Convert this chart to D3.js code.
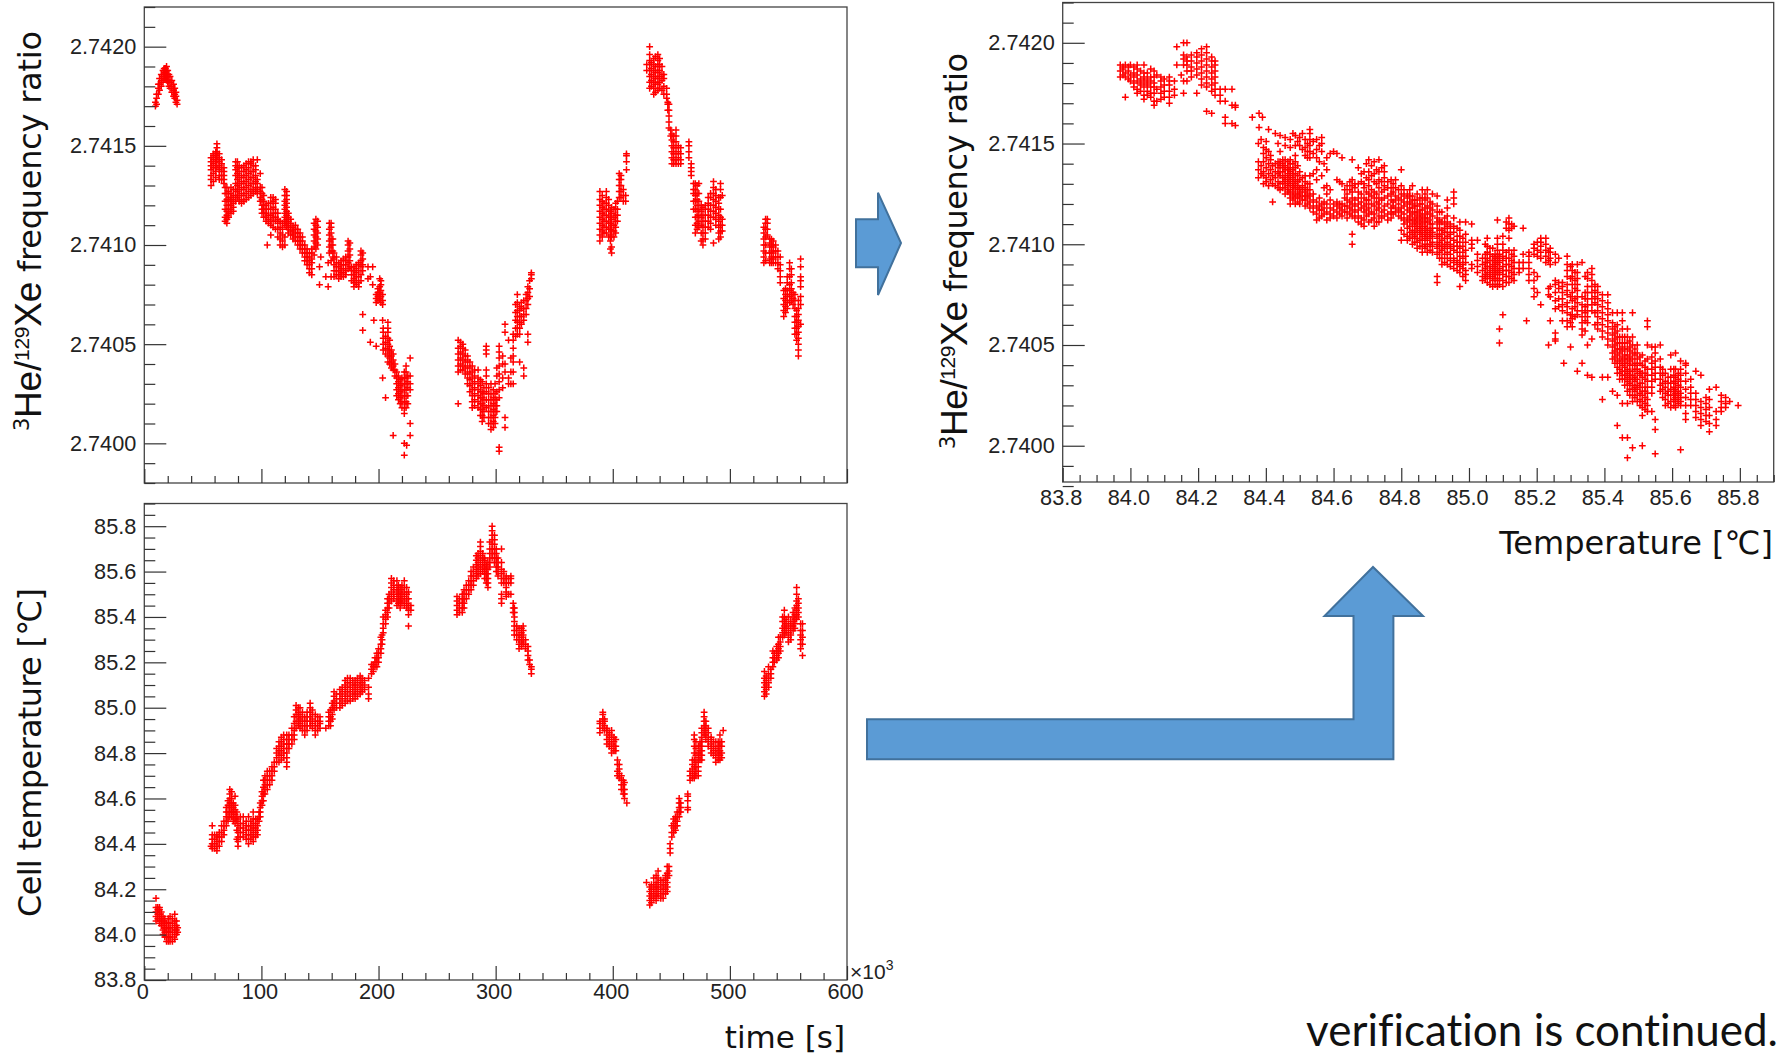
<!DOCTYPE html>
<html>
<head>
<meta charset="utf-8">
<script src="https://cdn.jsdelivr.net/npm/d3@7"></script>
<style>
  html, body { margin: 0; background: #fff; }
  svg { display: block; }
  .tick text { font-family: "Liberation Sans", sans-serif; font-size: 21.7px; fill: #222; }
  .title { font-family: "DejaVu Sans", sans-serif; fill: #111; }
  .note { font-variant-ligatures: none; }
</style>
</head>
<body>
<svg width="1787" height="1057"></svg>
<script>
// Values. Every row is one column of points: the first
// number is the abscissa, the rest are the ordinates at that abscissa.
// Ratios are written in units of 1e-5 above 2.74, temperatures in 0.01 C above 84.

// ratio against time (time in units of 10^3 s)
const ratioRun1 = [[9.5,170,172],[10.5,171,174,176],[12,176,179,181],[13,178,181,184],[14.5,180,183,186],[16,182,185,188],[17,184,186,188,189],[18,184,187,189],[19,183,186,188,190],[20,182,185,188],[21,180,183,186],[22,179,182,185],[23.5,177,180,183],[25,175,178,181],[26,174,176,179],[27,172,175,177],[28,171,173]];
const ratioRun2 = [[57,130,133,135,138,140,142,144],[59,132,136,139,141,143,145,146],[61,134,137,139,142,144,146,147],[62,140,143,145,147,151,149],[64,133,135,138,140,142,144,146],[66,133,135,137,139,141,143],[68,131,133,135,137,139],[69,112,114,118,122,126,129],[70.5,111,113,115,117,120,123,126,129],[72,114,116,118,120,122,124,127],[74,116,118,120,122,124,126,129],[76,117,119,121,123,125,128],[78,122,125,128,131,135,138,140,142],[79.5,124,127,130,133,136,139,142],[81,122,125,128,131,134,137,140],[83,121,123,126,129,132,135,139],[85,122,125,128,131,134,137,140],[87,123,126,129,132,135,138,141],[89,124,127,130,133,136,139,142],[91,125,128,131,134,137,141,142],[93,126,128,131,134,137,140,143],[95,127,129,132,135,138,140],[96.5,126,128,131,133,143],[99,122,124,127,129,136],[100.5,116,118,120,123,126,129],[102,114,116,118,120,122,125],[104,112,114,116,118,120],[105,100],[106,111,113,115,118,121],[108,105,110,112,115,118,121,124],[110,109,112,114,116,119,122,124],[112,108,112,114,116,118,121,123],[114,104,108,111,113,116],[116,100,103,106,109,112],[118,99,102,105,108,111],[120,100,104,110,112,114,116,118,120,122,125,128],[121.5,109,111,113,115,117,119,121,123,125,127],[123,106,108,110,112,114,116],[125,105,107,109,111,113],[127,103,105,107,109],[129,102,104,106,108,110],[131,100,102,104,106,108],[133,98,100,102,104,106],[135,96,98,100,102,104],[137,92,94,96,98,100],[139,90,92,94,96,98],[141,86,88,90,92,94,96],[143,85,88,91,93,96,98],[145,95,99,102,105,108,111],[146.5,98,101,104,107,110,113],[148,100,103,106,109,112],[149.6,80,89],[150.7,94],[155,84],[157,79,91],[158,96,99,102,105,108,111],[159.5,84,92,97,100,103,106,109,111],[161,94,97,100,103],[162,84,87,90,93,96],[164,85,87,89,91,94],[166,83,85,87,89,91],[168,84,86,88,90,92],[170,84,86,88,90,93],[172,85,87,90,92,94],[174,88,91,94,97,100,102],[175.5,89,92,95,98,101],[177,82,85,87,89],[179,79,81,83,85,87,89],[181,80,82,84,86,88,90],[183,79,81,84,87,90,91],[185,82,85,89,92,95,97],[186.5,57,65,87,90,93,96],[191,83,89],[193,51,84],[195,80,89],[196,62],[198,49,71,73,75],[199.5,72,74,76,78],[201,73,76,79,83],[202,71,74,77,80,82],[203.5,33,62,70,72,75],[204,47,50,53,56,58],[206,23,45,48,51,54],[208,41,44,47,50,53,56,58,61],[209.5,40,43,46,49,52],[211,38,41,44,47],[212.5,4,37,39,42,45],[214,34,37,40],[215.5,24,27,30,33,36],[217,22,25,28,31,34],[218.5,20,23,26,29,32],[220,18,21,24,27,30,33],[222,-6,0,15,18,21,24,27,30,33,36],[223.5,18,21,24,27,30,33,36,39],[224,-1],[225,20,24,28,31,34],[227,4,10,27,30,34,43]];
const ratioRun3 = [[268,20,36,39,42,45,48,52],[270,37,40,43,46,49,51],[272,37,39,42,45,48,50],[274,35,38,41,44,47],[276,30,33,36,39,42,44],[278,26,29,32,35,38,41],[280,18,21,24,27,30,33,36,39],[282,19,22,25,28,31,34,37],[285,18,21,24,27,30,33,37],[287,14,17,20,23,26,29,32],[288.5,11,14,17,20,23,26,31],[290,13,16,19,22,25,28],[292,18,22,26,30,34,37,45,47,49],[294,10,13,16,19,22,25,28],[296,7,10,13,16,19,22,25,30],[298,8,11,14,17,20,23,27],[299.5,10,13,16,19,22,25,30],[301,16,19,22,26,34,38],[303,-4,-2,23,27,31,35,39,43,46,49],[306,28,33,40,44],[308,8,13,36,40,56,60],[311,30,33,52],[313,30,36,43],[315,30,36,41,44,48,52,55],[317,54,58,62,66,70],[318.5,55,58,61,64,67,71,75],[320.5,41,55,58,61,64,67,69],[322,60,64,68,71],[324,34,38,62,65,68,72],[326,65,68,72,75],[327.5,51,55,70,73,76,79],[329,74,78,82],[330.5,83,85,86]];
const ratioRun4 = [[389,102,105,108,111,114,117,120,123,127],[391,104,107,110,113,116,119,122,125],[392.5,106,109,112,115,118,121],[394.5,106,109,112,115,118,121,124,127],[396.5,104,108,111,114,117,120,123],[398,98,102,105,108,111,114,117],[399,96,99,104,107,110,113,116,119],[401,104,107,110,114,118],[402.5,106,109,112,115,118,121],[404,112,115,118,122],[405.5,124,127,130,133,136],[407,124,127,130,133,135],[409,122,125,128],[411,122,125],[411.7,138,142,145,146]];
const ratioRun5 = [[429,188,191],[431.5,179,182,185,188,191,193,196,200],[433,180,183,186,189,192],[435,176,179,182,185,188,191,194],[436.5,177,181,184,187,190,195],[438.5,178,181,184,187,190,193,196],[440,179,182,185,188,191,194],[442,178,183,186,190],[443.6,176,180,184,186],[446,174,176,179],[447,168,171,172],[448,159,162,165,168,171],[449.5,155,158],[450.5,141,144,147,150,153,156],[452,141,143,146,149,152,155],[454,141,143,146,149,152,155,158],[456,141,144,147,150],[458,141,143,146,149],[465,144,147,150,152],[467,135,137,139,141],[469,118,122,126,128,131],[470.5,106,110,114,118,122,125,128,131],[472,108,111,114,117,120,123,126,130],[473.5,109,112,115,118,122,126,131],[475.5,102,106,110,114,117,120],[477,100,103,106,109,112,115,119],[479,103,106,109,112,115,118,120],[481.5,109,112,115,118,121,124],[483.5,108,111,114,117,120,124,126],[486,101,114,117,120,123,126,129,132],[488,110,113,116,119,122,125,128],[490.5,103,106,109,112,115,118,121,124],[492,104,107,110,114,118,124,128,131],[493.5,107,110,113,125]];
const ratioRun6 = [[529,91,94,97,100,103,106,109],[530.5,92,96,100,104,108,111,113],[532,105,108,111,113],[534,91,93,96,99,101,103],[535.5,91,94,97,100,103],[537,91,93,96,99,102],[539,91,94,97,100],[541,88,91,94,97],[543,81,84,87,90,94],[546,64,67,70,73,77],[547.5,66,69,72,75,78],[549,68,71,74,77,81,84],[551,71,74,77,80,84,88,91],[552.5,72,75,78,81,85,88],[554,70,73,76],[555.5,55,58,61,64,68,72,75],[557,52,55,58,61,64,67],[558.5,44,47,50,53,56,59,62,65,68,72],[560.4,60,70,74,79,82,84,89,93]];

// cell temperature against time (time in units of 10^3 s)
const tempRun1 = [[10,6,8,10,12,16],[11.5,7,9,11,12],[13,5,7,9,11,12],[14.5,4,6,8,10],[16,0,2,4,6,8],[17.5,-1,1,3,5,7],[19,-3,-1,1,3,5],[20.5,-3,-1,1,3,5,7],[22,-3,-1,1,3,5,8],[24,-3,-1,1,3,5,7],[26,-2,0,2,4,6,9],[27.5,0,2,4,6],[28.5,1,3]];
const tempRun2 = [[57,39],[58,38,40,42,44,48],[60,38,40,42,44],[62,37,39,41,43,44],[64,39,41,43,45],[66,41,43,45,48],[68,44,46,48,50],[70,48,50,52,54,56],[71.5,50,52,54,57,59],[73,52,54,56,58,60,62,64],[74.5,52,54,56,58,60,63],[76,50,52,54,56,58],[77.5,49,51,53,55,57,61],[79,42,46,50,52,54],[80,39,41,43,45,48,51],[82,43,45,47,49,52],[84.5,43,45,47,49,52],[87,42,44,46,48,50],[89,40,42,44,46,48,52],[91,42,44,46,48,50],[93,41,43,45,47,49,51,54],[95,43,45,47,49,51],[96.6,44,46,48,51],[98,50,52,54],[99,52,54,56,58],[100.5,57,59,61,63],[101.7,59,62,65,68],[103,62,64,66,68,70],[105,64,66,68,70,72],[107,66,68,70,72],[109,68,70,72,74],[111,72,74,76],[113,76,78,80,82],[115,76,79,81,83,85],[117,77,79,81,83,85,87],[119,78,80,82,84,86,88],[121.6,74,76,78,80,82,84,86,88],[123.5,82,84,86,88],[126,84,86,88,91],[128,86,88,90,93,96],[129.6,91,94,97,99,101],[131.5,92,94,96,98,100],[133,91,93,95,97,100],[135,90,92,94,96,98],[137,88,90,92,94,96],[139,90,92,94,96,98],[141.6,92,94,96,98,100,102],[143.5,91,93,95,97,99],[146,88,90,92,94,97],[148,90,92,94,96],[150,91,93,94,96],[155,91],[157.5,92,94,96,98],[159,92,94,96,99],[160.5,95,97,100,102],[162,99,101,103,105,107],[164,100,102,104,106],[167,100,102,104,106,108],[169,101,103,105,107,109],[171.5,102,104,106,108,110,112],[173.5,103,105,107,109,111,113],[175.8,103,105,107,109,111,113],[178,104,106,108,110,112],[180,104,106,108,110,112],[182,105,107,109,111,113],[184.3,106,108,110,112,114],[186,107,109,111,113],[188,108,110,112],[191.5,104,106,109,113],[194,115,117,119],[195.5,116,118,119],[197,118,120,122],[198.6,118,120,122,124],[200,120,122,124,126],[202,124,126,128,131],[203,128,130,132],[204,133,135,137,140],[206,137,139,141,143],[207.7,140,142,144,146,148],[209,144,146,148,150],[211,147,149,151,153,155,157],[213,148,150,152,154,156],[215.7,145,147,149,151,153,156],[217,146,148,150,152,154],[218.5,144,146,148,150,153],[220,146,148,150,152,154],[222,145,147,149,151,153,156],[224,144,146,148,150,153],[225.6,136,141,143,145,148,151],[227.6,143,145]];
const tempRun3 = [[267,141,143,145,147,149],[269,142,144,146,148],[271.5,142,144,146,148,150],[273,144,146,148,150,152],[275,148,150,152,154],[277,150,152,154,156],[279,152,154,156,158,160],[281,154,156,158,160,162],[283.5,157,159,161,163,165,167],[285,158,160,162,164,166,168],[287,159,161,163,165,167,169,171,173],[289,160,162,164,166,168],[290.6,157,159,161,163,165,166],[292,155,157,159,161,163],[293.4,153,155,157,159,161,164],[295,162,164,166,168,170,173],[297,166,168,170,172,174,176,178,180],[299,164,166,168,170,172,174,176],[300.6,160,162,164,166,168,170],[302,158,160,162,164,166],[305,146,148,150,155,157,159,161,164,170],[307,155,157,160],[309,149,151,153,155,157,158],[311,150,155,157],[313,150,155,157,158],[315,142,144,146],[316,132,134,136,138,140,142,144],[318,130,132,134,136],[320,126,128,130,132,135],[322,127,129,131,133,135],[323.5,128,130,132,134,136],[325.5,126,128,130],[327.6,121,123,125,127],[329,119,121],[330.5,115,117,118]];
const tempRun4 = [[389,89,91,93,94],[391.5,91,93,95,97,98],[393,90,92,94,95],[395,84,86,88,90,91],[397,83,85,87,89],[399,80,82,84,86,88,90],[401,81,83,85,87],[402.6,81,83,86],[404,70,72,75,77],[405.5,69,71,73,75],[407.4,64,66,68,70],[409,62,64,66,68],[410,60,62,64,67],[412,58]];
const tempRun5 = [[428.8,23],[431.6,13,15,17,19,21],[433,14,16,18,20,22],[435,16,18,20,22,25],[437,15,17,19,21,23,26],[438.7,17,19,21,23,25,28],[441,16,18,20,22,24],[443,16,18,20,22,24],[445,18,20,22,24,26],[446.5,19,21,23,25,27,30],[448,26,28,30],[449,36,38,40],[450.4,43,45,48],[452,45,47,49,51],[453.5,46,48,50,52],[455,48,50,52,54],[456.7,52,54,56,58,60],[458,54,56,58],[464,55,56,59,61,62],[466,68,70,72],[468,69,71,73,75,77],[469.6,69,71,74,77,80,83,86,88],[471,70,72,74,76,79,82,85],[473,70,72,74,76,78,80,83],[474.5,77,79,81,83,85],[476,77,79,81,83,85,87,89,91],[478,88,90,92,94,96,98],[479.5,86,88,90,92,94],[481.5,83,85,87,89,91],[484,80,82,84,86,87],[486,79,81,83,85],[488,76,78,80,82,85],[490,77,79,81,83,85],[491.5,77,79,81,83,85,88],[493,78,80,83,85],[494.3,90]];
const tempRun6 = [[529.5,105,107,109,111,113,116],[531,106,108,110,112,114],[533,109,111,113,115,118],[535,113,115,117],[536.7,118,120,122,125],[538,120,122,124],[540,121,123,125,127],[541.5,122,124,126,128,131],[543,125,127,129,131],[545,131,133,135,138,140],[546.5,132,134,136,138,140,143],[548,133,135,137,139],[550,129,131,133,135,137,140],[552,130,132,134,136,138],[554,134,136,138,140,142],[555.5,135,137,139,141,144],[557,139,141,143,145,147,150,153],[558.5,140,142,144,146,148],[560.4,126,128,130,132,134,137],[562,123,128,131,134,137]];

// ratio against temperature
const ratioByTemp1 = [[83.97,183,186,189],[83.978,184,187,188],[83.985,173,183,185,189],[83.994,182,186,188],[84.0,181,184,189],[84.01,178,180,183,185,188],[84.02,175,177,181,184,187,189],[84.03,176,179,180,182,186],[84.04,172,174,178,181,183,185,189],[84.05,174,176,179,180,182,185],[84.06,173,175,178,181,183,187],[84.07,169,171,175,178,180,183,186],[84.078,171,177,184],[84.09,172,175,178,181,183],[84.1,173,176,179,182],[84.115,170,173,176,179,181,183],[84.13,174,177,181],[84.137,189,198],[84.15,184],[84.157,175,181,189,192,194,200],[84.167,181,186,189,191,193,200],[84.18,183,186,188,191,194],[84.196,175,184,187,190,193,195],[84.21,179,182,185,188,191,194,197],[84.225,166,178,180,183,186,189,192,195,198],[84.24,165,176,179,182,185,188,191,193],[84.25,174,177,180,183,186,189,191],[84.265,171,174,177],[84.28,160,163,171,177],[84.3,160,169,177],[84.31,159,168,169],[84.36,163],[84.38,158,165],[84.39,163]];
const ratioByTemp2 = [[84.378,133,137,141,150],[84.386,135,139,152],[84.393,130,134,136,141,145,148],[84.401,131,133,138,143,147,151],[84.408,129,135,140,146,157],[84.414,132,137,142,144],[84.42,121,130,134,139],[84.428,129,133,136,140,155],[84.436,128,131,135,138,141,150],[84.442,127,130,134,136,139,141,146,154],[84.45,128,131,133,136,138,140,142],[84.457,125,128,130,132,134,137,139,142,149,153],[84.465,126,127,129,131,133,135,137,138,141],[84.472,120,123,125,127,130,132,134,136,138,140,142,148,152],[84.48,122,124,126,128,129,131,133,135,137,140,155],[84.487,120,123,125,128,130,132,135,138,141,144,149,154],[84.494,121,124,127,129,131,134,139,151],[84.5,120,123,125,126,128,132,136,149,153],[84.508,122,124,127,129,133,147,155],[84.516,119,122,124,126,128,131,134,144,148,152],[84.523,120,123,125,127,130,143,146,150],[84.53,118,121,124,127,130,134,143,146,149,152,155,157],[84.54,116,119,122,125,135,145,151],[84.55,112,115,118,121,132,137,143,147,152],[84.558,113,117,119,123,141,149],[84.565,114,117,120,134,146,150,153],[84.572,115,118,121,128,140],[84.58,112,116,120,125,129,137,143],[84.59,113,115,118,122,127,145],[84.6,114,117,120,146],[84.61,113,116,119,121,132,145],[84.618,115,118,120,131],[84.625,114,117,120,130,143],[84.633,116,119,123,127],[84.64,113,116,119,122,125,129],[84.648,115,118,121,127,131],[84.655,100,105,114,117,120,123,126,129,132,142],[84.663,113,116,119,122,128,130],[84.673,111,114,117,120,123,126,130,138]];
const ratioByTemp3 = [[84.682,110,113,118,121,125,131,135],[84.69,109,112,116,119,123,128,130,136],[84.697,114,117,120,122,126,133,140],[84.704,111,115,118,122,125,129,132,136,142],[84.712,112,116,120,124,127,134,139],[84.72,109,113,115,119,123,126,131,135,141],[84.727,111,117,121,125,130,137],[84.734,111,114,118,120,123,128,132,136,142],[84.742,113,116,122,126,131,138],[84.75,114,117,119,123,127,129,133,136,139],[84.76,112,115,120,124,128,131],[84.77,113,116,118,122,125,128,132],[84.776,115,119,121,126,130],[84.783,116,118,122,124,128,132],[84.792,114,117,120,123,127],[84.8,102,107,113,116,118,122,125,129,137],[84.808,105,110,112,115,119,121,124,127],[84.818,102,104,108,111,113,117,120,123,125],[84.825,103,106,109,112,114,116,118,121,124,127],[84.833,100,103,105,107,110,112,115,118,120,122,124,129],[84.84,101,104,106,109,111,113,116,119,122],[84.847,98,101,103,106,108,110,112,114,116,119,122,125],[84.855,99,102,105,107,109,111,113,115,117,120,123],[84.862,96,99,102,104,106,108,110,112,114,117,120,123,127],[84.87,98,100,103,105,107,109,111,113,115,118,122,125],[84.877,96,99,102,104,106,108,111,113,116,119,123,127],[84.885,97,100,103,105,107,110,112,115,118,121],[84.892,96,99,101,104,106,108,110,114,117,120,125],[84.906,81,84,95,98,100,103,105,108,111,113,116,119,124],[84.913,93,96,99,101,104,107,110,112,116],[84.92,90,93,97,99,102,105,107,111,116],[84.928,91,95,98,100,103,106,108,110,113],[84.936,90,93,96,99,101,104,106,109,111,114,118,122],[84.945,89,92,95,98,100,103,105,108,110],[84.955,88,91,93,97,99,102,106,109,113,120,123,126],[84.965,87,90,92,96,99,101,104,108],[84.973,79,86,89,91,94,98,101,104,107,111],[84.982,84,88,90,93,96,99,103],[84.99,82,85,87,91,94,97,101,105,111],[85.008,88,90,98,100,102,110],[85.025,86,89,92,95,102],[85.04,82,84,87,90,93],[85.048,83,85,88,91,95,100],[85.054,81,84,86,89,91,93,96,99,103],[85.062,80,83,85,87,89,92,95,98],[85.07,79,82,84,86,88,90,92,94,98],[85.077,80,83,85,87,89,91,93,95],[85.084,79,82,85,87,90,92,94,97,100,103,112],[85.09,51,58,80,83,86,88,91,93,95],[85.1,65,79,82,85,87,89,92,94,97,100,104],[85.11,81,84,87,90,93,96,108,111],[85.118,81,84,87,90,93,97,103,107,110,113],[85.126,83,86,89,92,95,108,110],[85.133,82,85,88,91,94,97,109],[85.148,86,88,91],[85.16,88,91,95,108],[85.17,62],[85.177,82,85,88,91,94,96],[85.192,74,78,82,86,95,98,100],[85.202,76,84,94,97,101],[85.212,70,93,96,99,101,103],[85.227,91,94,97,100,103],[85.235,50,75,78,92,96],[85.24,62,74,79,90,93,96,98],[85.255,52,53,56,68,72,76,80,82,91,95],[85.265,69,73,78,81,93],[85.276,62,67,70,73,76,79,81],[85.28,41],[85.29,59,62,66,69,71,75,77,80,84,87,90,94],[85.3,49,61,65,74,83,89],[85.305,59,63,65,68,72,76,80,84,87,90],[85.313,64,69,73,78,82,86],[85.32,37,65,67,71,74,77,80,83,86,90],[85.334,41,55,58,61,64,67,70,74,91],[85.343,57,62,66,69,73,76,84],[85.35,35,50,61,64,67,70,73,76,79,83,86],[85.363,34,53,67,70,73,76,79,82,85,88],[85.372,60,66,71,74,77,80],[85.38,58,61,64,67,70,73,76,79],[85.394,23,34,54,57,60,63,66,69,72,75],[85.41,34,50,53,56,59,62,65,68,71,75],[85.424,27,43,46,49,52,55,58,61,66],[85.431,41,44,47,50,53,56,59],[85.438,10,25,36,39,42,45,48,51,54,57,60,66]];
const ratioByTemp4 = [[85.445,33,36,38,41,43,46,48,51,54],[85.453,4,21,33,35,37,40,42,44,47,49,51,54,58,62,66],[85.46,30,33,35,37,39,41,43,45,48,51,54],[85.468,-6,4,21,27,30,32,34,36,38,41,43,45,48,51,54,58],[85.475,25,28,31,33,35,37,40,42,44,47,49,52],[85.483,-1,22,25,28,30,33,35,37,40,43,46,50,54,66],[85.49,24,27,29,32,34,38,41,45,48],[85.497,22,25,28,30,33,36,38,40,43,46,50],[85.505,20,23,26,29,31,35,37,41,44],[85.512,0,15,19,22,25,27,31,34,36,40,45],[85.52,18,21,24,27,29,33,36,39,42],[85.527,17,20,23,26,29,32,35,38,43,50,59,62],[85.54,17,26,29,32,35,38,41,44,49],[85.55,-4,8,13,33,36,39,42,46,49],[85.565,27,30,33,36,39,43,50],[85.572,24,28,31,35,38],[85.58,20,23,26,29,32,36],[85.588,21,25,27,31,34],[85.596,19,22,25,28,31,34,38,45],[85.605,20,23,25,27,29,32,35,38],[85.61,19,22,24,26,28,31,34,38,46],[85.618,21,23,25,27,30,33,36],[85.625,-2,20,22,24,26,29,32,35,38,42],[85.64,13,16,20,24,28,32,36,40,41],[85.655,20,23,26,29,33],[85.67,14,17,20,23,26,37],[85.685,10,13,16,19,22,35],[85.7,12,15,18,21,24],[85.71,7,11,15,19,23,28],[85.73,10,13,17,29],[85.745,17,19,22,25],[85.758,19,21,24],[85.77,22],[85.795,20]];

const xTicksTime = [0, 100, 200, 300, 400, 500, 600];
const xTicksTemp = [83.8, 84.0, 84.2, 84.4, 84.6, 84.8, 85.0, 85.2, 85.4, 85.6, 85.8];
const yTicksRatio = [2.7400, 2.7405, 2.7410, 2.7415, 2.7420];
const yTicksTemp = [83.8, 84.0, 84.2, 84.4, 84.6, 84.8, 85.0, 85.2, 85.4, 85.6, 85.8];

const ratioRows = [ratioRun1, ratioRun2, ratioRun3, ratioRun4, ratioRun5, ratioRun6].flat();
const tempRows = [tempRun1, tempRun2, tempRun3, tempRun4, tempRun5, tempRun6].flat();
const scatterRows = [ratioByTemp1, ratioByTemp2, ratioByTemp3, ratioByTemp4].flat();

const toRatio = v => 2.74 + v * 1e-5;
const toTemp = v => 84 + v / 100;

// turn the column rows into [x, y] points
function unroll(rows, convert) {
  return rows.flatMap(([x, ...ys]) => ys.map(y => [x, convert(y)]));
}

// ROOT style "+" marker, as a custom d3 symbol type
const plusType = {
  draw(context, size) {
    const r = Math.sqrt(size) / 2;
    context.moveTo(-r, 0);
    context.lineTo(r, 0);
    context.moveTo(0, -r);
    context.lineTo(0, r);
  }
};
const plus = d3.symbol().type(plusType).size(46)();

const svg = d3.select("svg");

function drawPanel(cfg) {
  let x = d3.scaleLinear().domain(cfg.xDomain).range([cfg.left, cfg.right]),
      y = d3.scaleLinear().domain(cfg.yDomain).range([cfg.bottom, cfg.top]),
      g = svg.append("g");

  g.selectAll(".pt")
    .data(cfg.points)
    .enter().append("path")
      .attr("class", "pt")
      .attr("d", plus)
      .attr("transform", d => `translate(${x(d[0])},${y(d[1])})`)
      .attr("fill", "none")
      .attr("stroke", "#ff0000")
      .attr("stroke-width", 1.5);

  g.append("rect")
    .attr("x", cfg.left).attr("y", cfg.top)
    .attr("width", cfg.right - cfg.left).attr("height", cfg.bottom - cfg.top)
    .attr("fill", "none").attr("stroke", "#444").attr("stroke-width", 1.3);

  // minor ticks first, the major axes then carry the labels
  g.append("g").attr("transform", `translate(${cfg.left},0)`)
    .call(d3.axisRight(y).tickValues(cfg.yMinor).tickSize(11).tickFormat(""));
  g.append("g").attr("transform", `translate(${cfg.left},0)`)
    .call(d3.axisLeft(y).tickValues(cfg.yMajor).tickSize(-22).tickPadding(8)
      .tickFormat(cfg.yFormat));
  g.append("g").attr("transform", `translate(0,${cfg.bottom})`)
    .call(d3.axisTop(x).tickValues(cfg.xMinor).tickSize(7).tickFormat(""));
  let xAxis = d3.axisBottom(x).tickValues(cfg.xMajor).tickSize(-14).tickPadding(cfg.xPad);
  xAxis.tickFormat(cfg.xFormat || "");
  g.append("g").attr("transform", `translate(0,${cfg.bottom})`).call(xAxis)
    .selectAll("text").attr("dx", -2);

  g.selectAll(".domain").remove();
  g.selectAll(".tick line").attr("stroke", "#333").attr("stroke-width", 1.2);
}

// every tick step between the domain ends that is not a major tick
function minors(domain, step, major) {
  let out = [];
  for (let i = 0; domain[0] + i * step <= domain[1] + step / 10; i++) {
    let v = domain[0] + i * step;
    if (!major.some(m => Math.abs(m - v) < step / 10)) out.push(v);
  }
  return out;
}

const ratioDomain = [2.7398, 2.7422];
const ratioDomainRight = [2.73982, 2.7422];
const timeDomain = [0, 600];
const tempDomain = [83.8, 85.9];
const f4 = d3.format(".4f");
const f1 = d3.format(".1f");

drawPanel({
  left: 144.3, right: 847, top: 7, bottom: 483, xPad: 4,
  xDomain: timeDomain, yDomain: ratioDomain,
  xMajor: xTicksTime, xMinor: minors(timeDomain, 20, xTicksTime),
  yMajor: yTicksRatio, yMinor: minors(ratioDomain, 0.0001, yTicksRatio),
  yFormat: f4,
  points: unroll(ratioRows, toRatio)
});

drawPanel({
  left: 144.3, right: 847, top: 503.5, bottom: 980, xPad: 4,
  xDomain: timeDomain, yDomain: tempDomain,
  xMajor: xTicksTime, xMinor: minors(timeDomain, 20, xTicksTime),
  yMajor: yTicksTemp, yMinor: minors(tempDomain, 0.05, yTicksTemp),
  yFormat: f1, xFormat: d3.format("d"),
  points: unroll(tempRows, toTemp)
});

drawPanel({
  left: 1062.7, right: 1773.7, top: 2.5, bottom: 482, xPad: 8,
  xDomain: tempDomain, yDomain: ratioDomainRight,
  xMajor: xTicksTemp, xMinor: minors(tempDomain, 0.05, xTicksTemp),
  yMajor: yTicksRatio, yMinor: minors(ratioDomain, 0.0001, yTicksRatio),
  yFormat: f4, xFormat: f1,
  points: unroll(scatterRows, toRatio)
});

// rotated axis title, with the isotope numbers raised
function ratioTitle(xPos, yPos, length) {
  let t = svg.append("text")
    .attr("class", "title")
    .attr("transform", `translate(${xPos},${yPos}) rotate(-90)`)
    .attr("font-size", 32)
    .attr("textLength", length)
    .attr("lengthAdjust", "spacing");
  t.append("tspan").attr("font-size", 21).attr("dy", -12).text("3");
  t.append("tspan").attr("font-family", "Liberation Sans").attr("font-size", 37).attr("dy", 12).text("He");
  t.append("tspan").attr("font-family", "Liberation Sans").attr("font-size", 37).text("/");
  t.append("tspan").attr("font-family", "Liberation Sans").attr("font-size", 21).attr("dy", -12).text("129");
  t.append("tspan").attr("font-family", "Liberation Sans").attr("font-size", 37).attr("dy", 12).text("Xe");
  t.append("tspan").text(" frequency ratio");
}
ratioTitle(41, 431, 400);
ratioTitle(967, 449, 396);

svg.append("text").attr("class", "title")
  .attr("transform", "translate(41,917) rotate(-90)")
  .attr("font-size", 32).attr("textLength", 329).attr("lengthAdjust", "spacing")
  .text("Cell temperature [℃]");

svg.append("text").attr("class", "title")
  .attr("x", 845).attr("y", 1048).attr("text-anchor", "end")
  .attr("font-size", 31)
  .text("time [s]");

svg.append("text").attr("class", "title")
  .attr("x", 1773).attr("y", 554).attr("text-anchor", "end")
  .attr("font-size", 32)
  .text("Temperature [℃]");

let scale = svg.append("text")
  .attr("x", 850).attr("y", 979)
  .attr("font-family", "Liberation Sans").attr("font-size", 21).attr("fill", "#222");
scale.append("tspan").text("×10");
scale.append("tspan").attr("font-size", 14).attr("dy", -9).text("3");

svg.append("text")
  .attr("class", "note")
  .attr("x", 1778).attr("y", 1046).attr("text-anchor", "end")
  .attr("font-family", "Lato").attr("font-size", 44).attr("fill", "#111")
  .text("verification is continued.");

// the two block arrows
const arrowLine = d3.line();
const rightArrow = [[856,219.3],[878,219.3],[878,192.7],[901,243],[878,295],[878,267.3],[856,267.3]];
const bentArrow = [[867,719.3],[1353.5,719.3],[1353.5,616],[1324.5,616],[1373,567],[1423,616],[1393.4,616],[1393.4,759.3],[867,759.3]];
[rightArrow, bentArrow].forEach(pts => {
  svg.append("path")
    .attr("d", arrowLine(pts) + "Z")
    .attr("fill", "#5b9bd5")
    .attr("stroke", "#41719c")
    .attr("stroke-width", 2);
});
</script>
</body>
</html>
